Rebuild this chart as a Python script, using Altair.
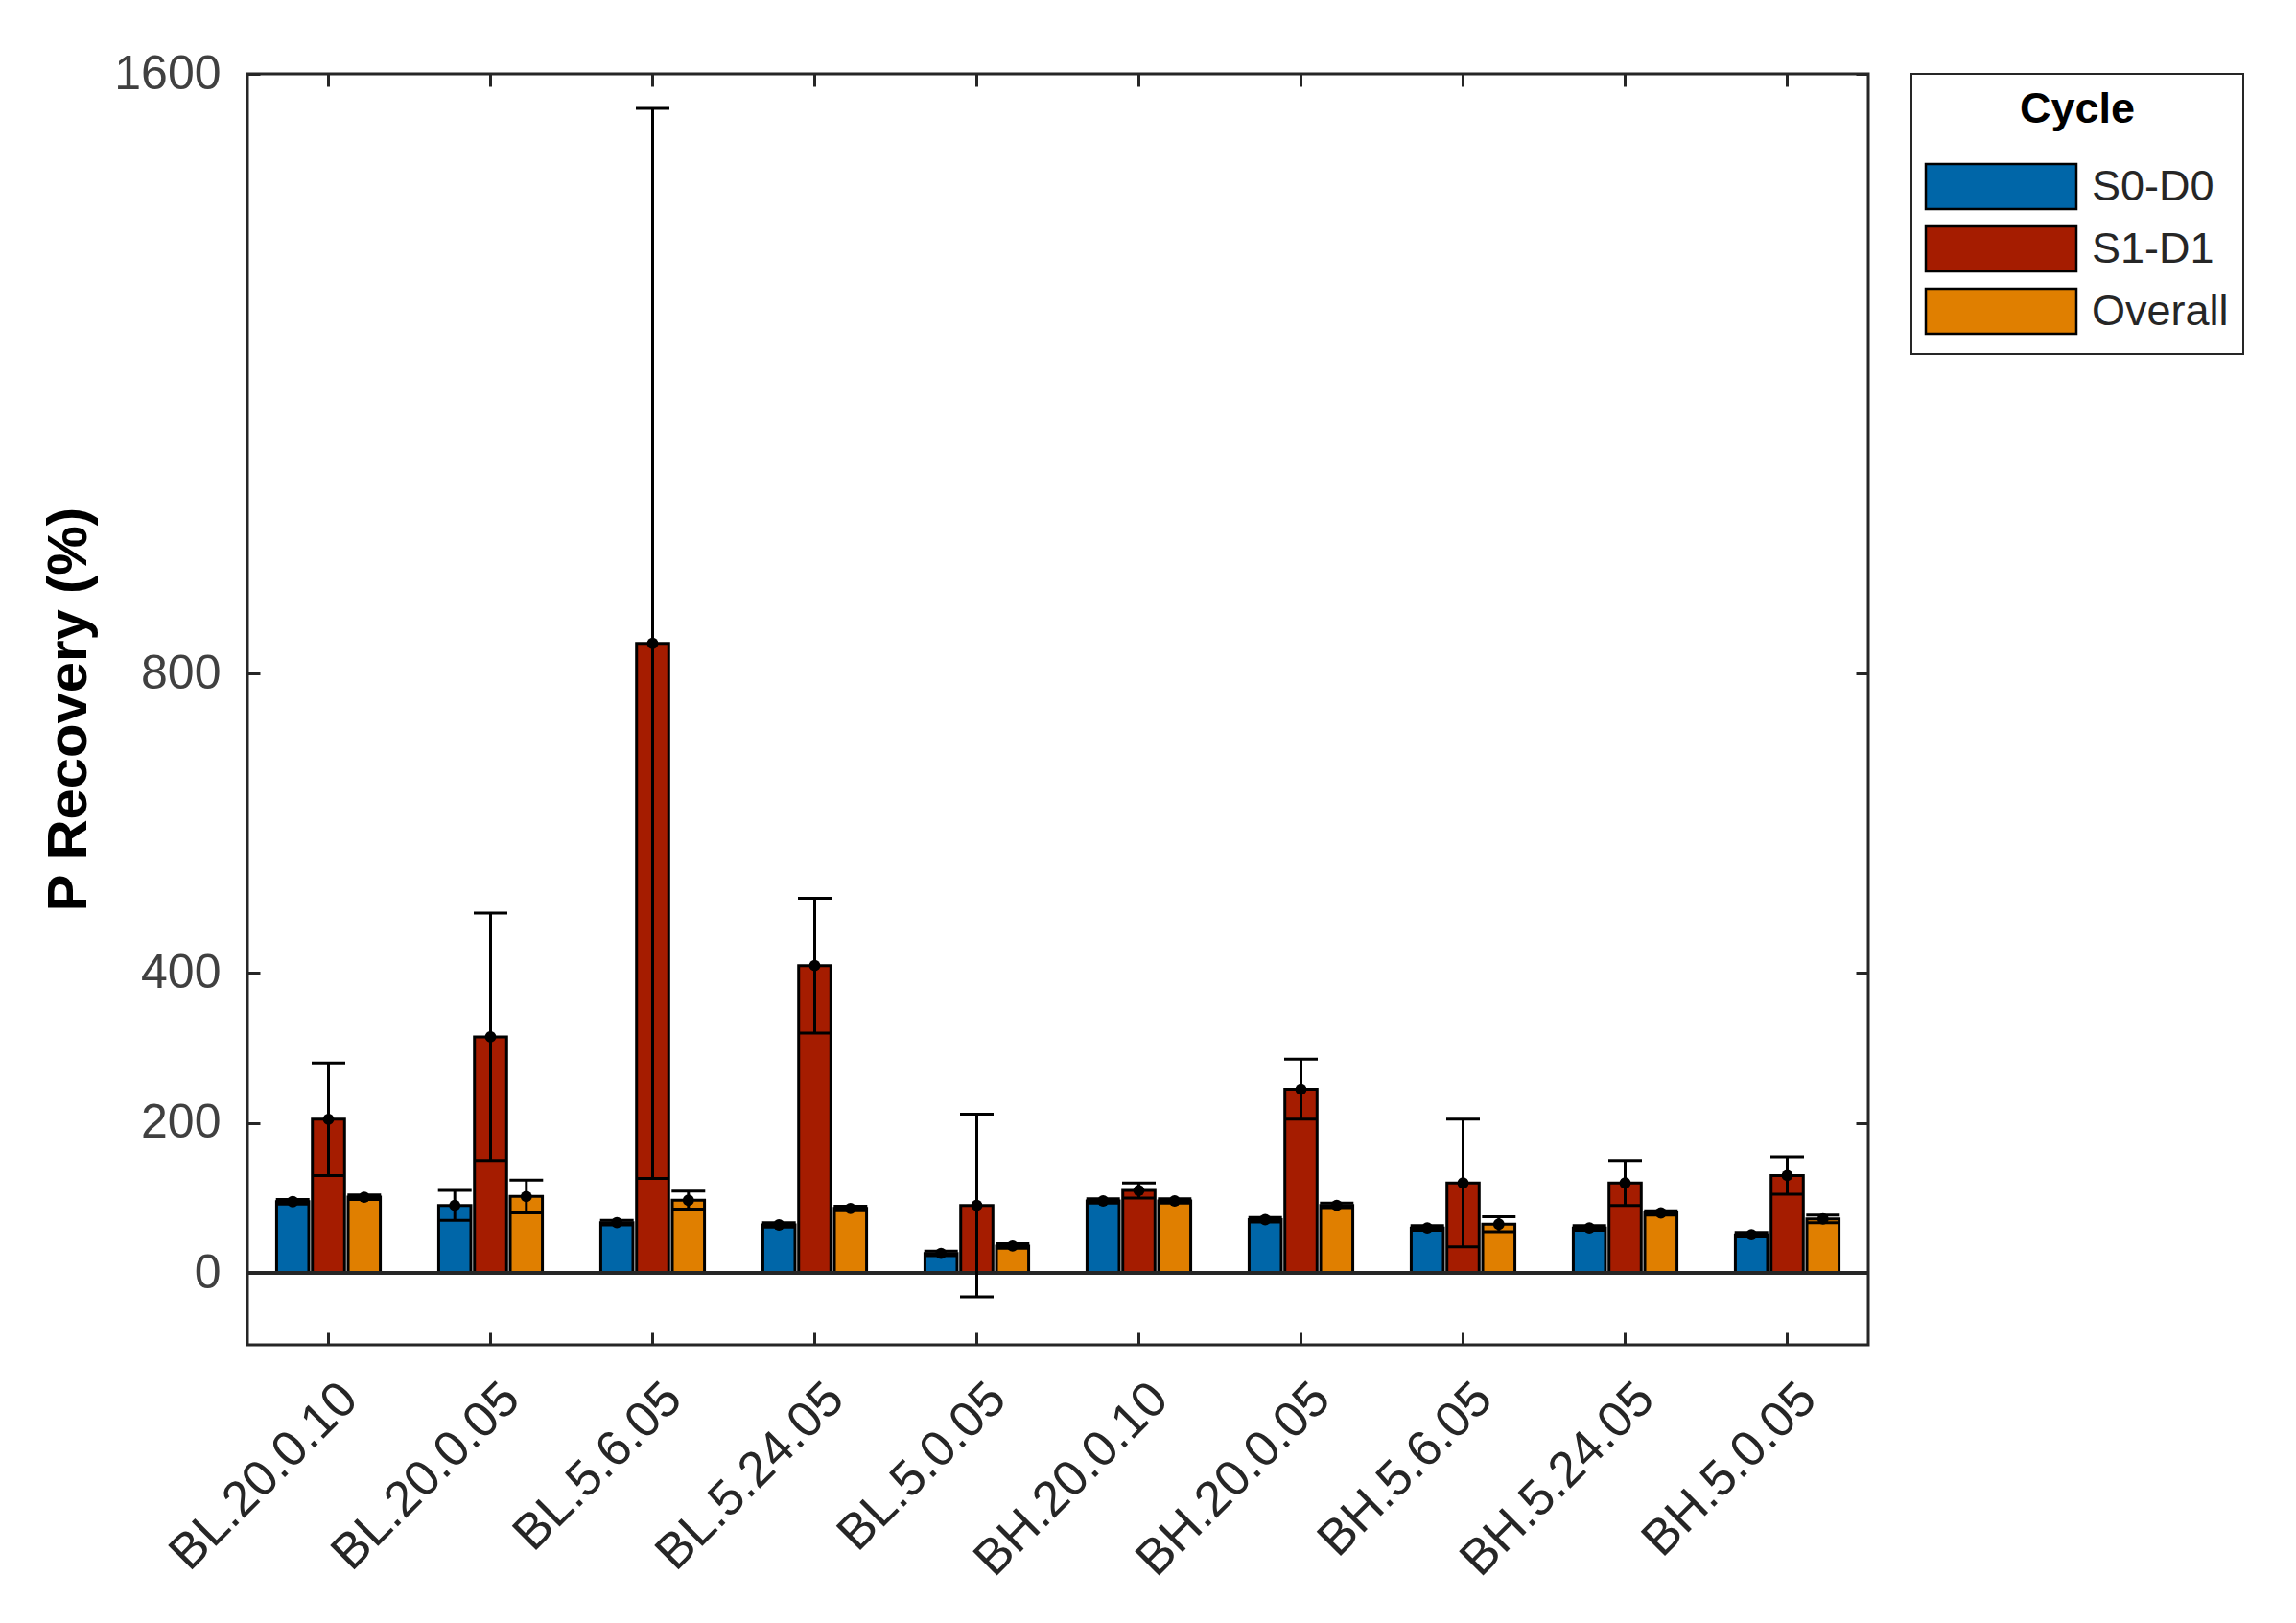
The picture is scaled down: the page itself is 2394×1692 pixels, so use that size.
import altair as alt
import pandas as pd

categories = ["BL.20.0.10", "BL.20.0.05", "BL.5.6.05", "BL.5.24.05", "BL.5.0.05",
              "BH.20.0.10", "BH.20.0.05", "BH.5.6.05", "BH.5.24.05", "BH.5.0.05"]
cycles = ["S0-D0", "S1-D1", "Overall"]
s0_mean = [95, 90, 67, 64, 26, 96, 71, 60, 60, 51]
s0_err = [3, 20, 3, 3, 3, 3, 3, 3, 3, 3]
s1_mean = [205, 315, 840, 410, 90, 110, 245, 120, 120, 130]
s1_err = [75, 165, 714, 90, 122, 10, 40, 85, 30, 25]
ov_mean = [101, 102, 97, 86, 36, 96, 90, 65, 80, 72]
ov_err = [3, 22, 12, 3, 3, 3, 3, 10, 3, 5]
y_ticks = [0, 200, 400, 800, 1600]
colors = ["#0066A8", "#A51C00", "#E07F00"]

rows = []
for cyc, means, errs in zip(cycles, [s0_mean, s1_mean, ov_mean], [s0_err, s1_err, ov_err]):
    for c, m, e in zip(categories, means, errs):
        rows.append({"cat": c, "cycle": cyc, "value": m, "lo": m - e, "hi": m + e})
df = pd.DataFrame(rows)

W, H = 1690, 1325
FONT = "Liberation Sans"
AX = "#262626"

xscale = alt.Scale(domain=categories, paddingInner=0.36, paddingOuter=0.18)
yscale = alt.Scale(domain=[-96, 1600], nice=False, zero=False)


def xoff():
    return alt.XOffset("cycle:N", sort=cycles,
                       scale=alt.Scale(domain=cycles, paddingInner=0.1, paddingOuter=0))


def tick_axis(orient, offset, values=None):
    kw = dict(orient=orient, offset=offset, labels=False, domain=False, ticks=True,
              tickSize=13, tickWidth=3, tickColor=AX, title=None, grid=False)
    if values is not None:
        kw["values"] = values
    else:
        kw["bandPosition"] = 0.5
    return alt.Axis(**kw)


legend = alt.Legend(
    title="Cycle", orient="none", legendX=W + 45, legendY=0, direction="vertical",
    titleFontSize=45, titleFont=FONT, titleFontWeight="bold", titleColor="black",
    titleAnchor="middle", titleAlign="center", titlePadding=30,
    labelFontSize=45, labelFont=FONT, labelColor=AX, labelOffset=67,
    symbolType="M-3,-0.9H3V0.9H-3Z", symbolSize=2739, symbolOffset=51,
    symbolStrokeColor="black", symbolStrokeWidth=2.5, symbolOpacity=1,
    rowPadding=6, padding=15,
    strokeColor=AX, fillColor="white", cornerRadius=0,
)

bars = alt.Chart(df).mark_bar(stroke="black", strokeWidth=3).encode(
    x=alt.X("cat:N", sort=categories, scale=xscale,
            axis=alt.Axis(orient="bottom", labelAngle=-45, labelAlign="right", labelBaseline="top",
                          labelFontSize=52, labelFont=FONT, labelColor=AX, labelPadding=30,
                          labelOffset=4, ticks=False, tickSize=0, domain=False, title=None,
                          bandPosition=0.5, labelLimit=0)),
    xOffset=xoff(),
    y=alt.Y("value:Q", scale=yscale,
            axis=alt.Axis(orient="left", values=y_ticks, format="d", labelFontSize=50,
                          labelFont=FONT, labelColor="#404040", labelPadding=28, ticks=False,
                          tickSize=0, domain=False, grid=False, title="P Recovery (%)",
                          titleFontSize=58, titleFont=FONT, titleFontWeight="bold",
                          titleColor="black", titleX=-186, titleY=662, titleAngle=270,
                          titleAlign="center", titleBaseline="middle")),
    color=alt.Color("cycle:N", sort=cycles, scale=alt.Scale(domain=cycles, range=colors),
                    legend=legend),
)

zero = alt.Chart(df).mark_rule(color=AX, strokeWidth=3).encode(
    y=alt.YDatum(0, axis=None),
)

err = alt.Chart(df).mark_rule(color="black", strokeWidth=3).encode(
    x=alt.X("cat:N", sort=categories, scale=xscale, axis=tick_axis("top", -H)),
    xOffset=xoff(),
    y=alt.Y("lo:Q", scale=yscale, axis=tick_axis("right", -W, y_ticks)),
    y2="hi:Q",
)

cap_lo = alt.Chart(df).mark_tick(color="black", thickness=3, size=35, opacity=1).encode(
    x=alt.X("cat:N", sort=categories, scale=xscale, axis=tick_axis("bottom", -H)),
    xOffset=xoff(),
    y=alt.Y("lo:Q", scale=yscale, axis=tick_axis("left", -W, y_ticks)),
)

cap_hi = alt.Chart(df).mark_tick(color="black", thickness=3, size=35, opacity=1).encode(
    x=alt.X("cat:N", sort=categories, scale=xscale, axis=None),
    xOffset=xoff(),
    y=alt.Y("hi:Q", scale=yscale, axis=None),
)

pts = alt.Chart(df).mark_point(filled=True, color="black", size=140, shape="circle", opacity=1).encode(
    x=alt.X("cat:N", sort=categories, scale=xscale, axis=None),
    xOffset=xoff(),
    y=alt.Y("value:Q", scale=yscale, axis=None),
)

chart = alt.layer(bars, zero, err, cap_lo, cap_hi, pts).resolve_scale(
    x="shared", y="shared"
).resolve_axis(
    x="independent", y="independent"
).properties(
    width=W, height=H,
    padding={"left": 250, "top": 69, "right": 420, "bottom": 270},
    autosize=alt.AutoSizeParams(type="none"),
    background="white",
).configure_view(
    stroke=AX, strokeWidth=3
).configure_legend(
    strokeWidth=2
)

chart.save("out.html", embed_options={"renderer": "svg", "actions": False})
